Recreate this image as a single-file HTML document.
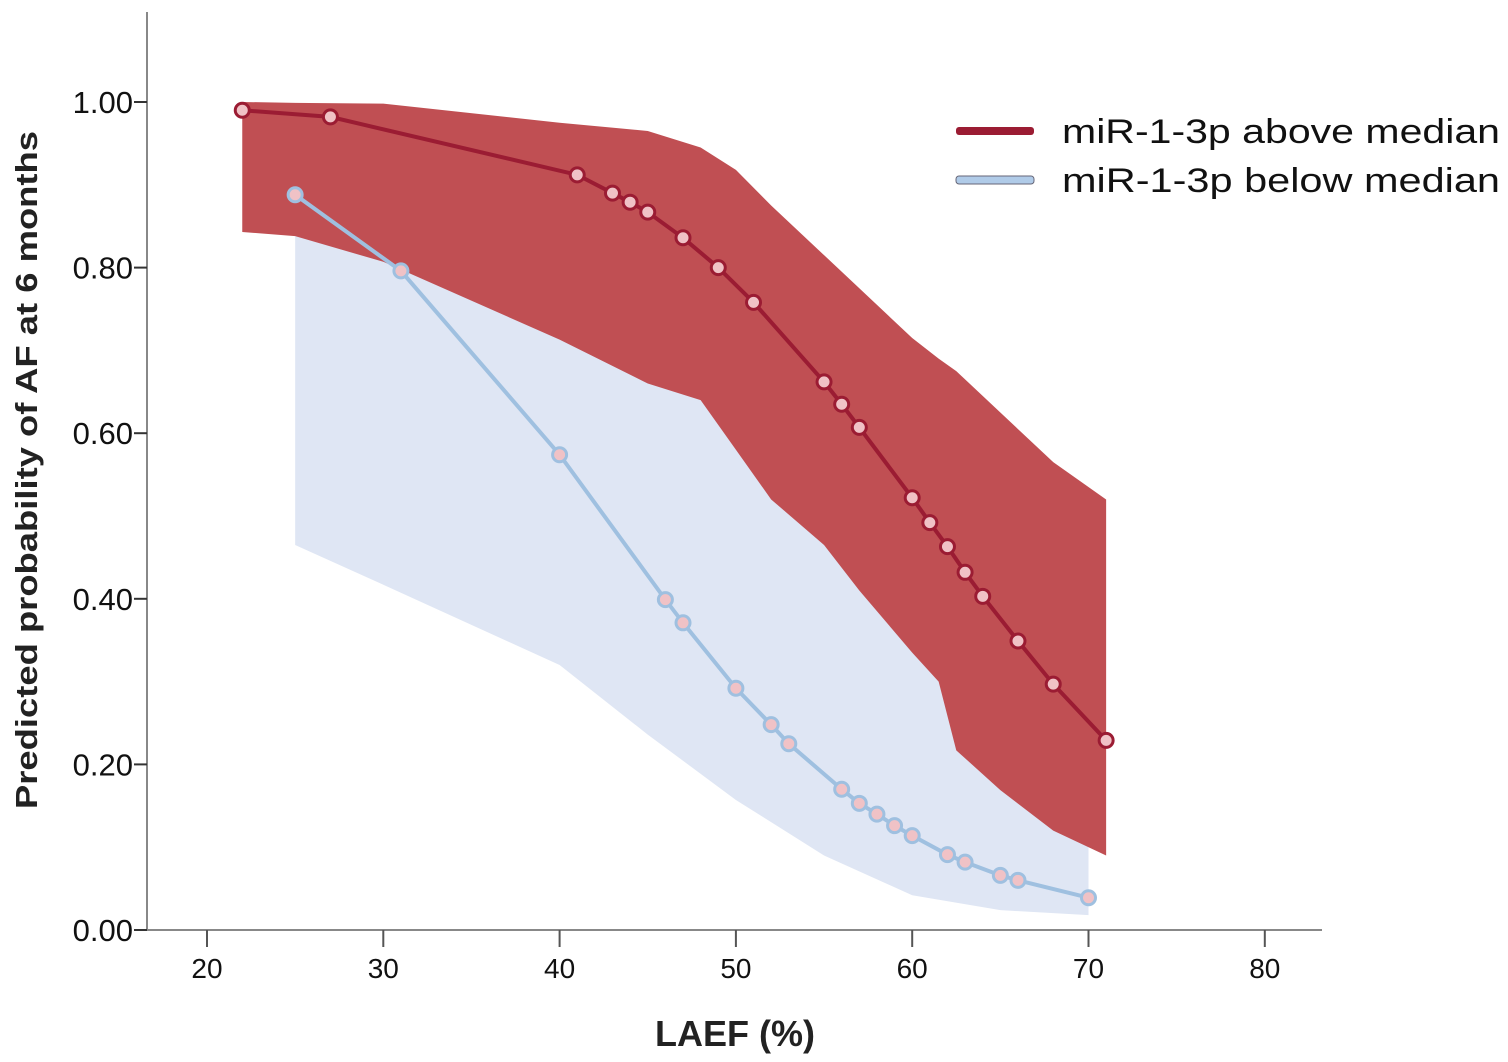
<!DOCTYPE html>
<html><head><meta charset="utf-8"><style>
html,body{margin:0;padding:0;background:#fff}
svg{display:block;font-family:"Liberation Sans",Arial,sans-serif}
</style></head><body>
<svg id="chart" width="1508" height="1062" viewBox="0 0 1508 1062">
<g id="bands"></g><g id="axes"></g><g id="lines"></g>
<text x="735" y="1046" text-anchor="middle" font-size="36" font-weight="bold" fill="#222">LAEF (%)</text>
<text transform="translate(37,470) rotate(-90)" text-anchor="middle" font-size="31" font-weight="bold" fill="#222" textLength="678" lengthAdjust="spacingAndGlyphs">Predicted probability of AF at 6 months</text>
<g>
<rect x="956" y="127" width="78" height="8" rx="3" fill="#9b1c33"/>
<text x="1062" y="143" font-size="34" fill="#111" textLength="438" lengthAdjust="spacingAndGlyphs">miR-1-3p above median</text>
<rect x="956" y="176" width="78" height="8" rx="3" fill="#b0cbe8" stroke="#667" stroke-width="1"/>
<text x="1062" y="192" font-size="34" fill="#111" textLength="438" lengthAdjust="spacingAndGlyphs">miR-1-3p below median</text>
</g>
</svg>
<script>
const xTicks=[20,30,40,50,60,70,80];
const yTicks=[0,0.2,0.4,0.6,0.8,1.0];
const yTickLabels=["0.00","0.20","0.40","0.60","0.80","1.00"];
const aboveX=[22,27,41,43,44,45,47,49,51,55,56,57,60,61,62,63,64,66,68,71];
const aboveY=[0.99,0.982,0.912,0.89,0.879,0.867,0.836,0.80,0.758,0.662,0.635,0.607,0.522,0.492,0.463,0.432,0.403,0.349,0.297,0.229];
const belowX=[25,31,40,46,47,50,52,53,56,57,58,59,60,62,63,65,66,70];
const belowY=[0.888,0.796,0.574,0.399,0.371,0.292,0.248,0.225,0.170,0.153,0.140,0.126,0.114,0.091,0.082,0.066,0.060,0.039];
const aboveBandX=[22,25,30,40,45,48,50,52,55,57,60,61.5,62.5,65,68,71];
const aboveUpper=[1.0,0.999,0.998,0.975,0.965,0.945,0.918,0.875,0.815,0.775,0.715,0.69,0.675,0.625,0.565,0.52];
const aboveLower=[0.843,0.838,0.807,0.713,0.66,0.64,0.58,0.52,0.465,0.41,0.335,0.30,0.217,0.169,0.12,0.09];
const belowBandX=[25,30,40,45,50,55,60,65,70];
const belowUpper=[0.838,0.815,0.73,0.68,0.63,0.52,0.42,0.28,0.14];
const belowLower=[0.465,0.417,0.32,0.236,0.157,0.09,0.042,0.024,0.018];

const NS="http://www.w3.org/2000/svg";
const X=v=>207+(v-20)*17.63;
const Y=p=>930-p*828;
function mk(tag,attrs,parent){const e=document.createElementNS(NS,tag);for(const k in attrs)e.setAttribute(k,attrs[k]);parent.appendChild(e);return e;}
const bands=document.getElementById('bands'),axes=document.getElementById('axes'),lines=document.getElementById('lines');
function band(xs,up,lo,fill,name){
  let pts=xs.map((v,i)=>X(v)+','+Y(up[i]));
  for(let i=xs.length-1;i>=0;i--)pts.push(X(xs[i])+','+Y(lo[i]));
  const p=mk('polygon',{points:pts.join(' '),fill:fill},bands);
  
  
}
band(belowBandX,belowUpper,belowLower,'#dfe6f4','ci-band-below');
band(aboveBandX,aboveUpper,aboveLower,'#c04f53','ci-band-above');
let a=mk('line',{x1:147,y1:12,x2:147,y2:930,stroke:'#888','stroke-width':2},axes);


a=mk('line',{x1:146,y1:930,x2:1322,y2:930,stroke:'#888','stroke-width':2},axes);


xTicks.forEach(v=>{
  const t=mk('line',{x1:X(v),y1:930,x2:X(v),y2:947,stroke:'#555','stroke-width':2},axes);
  
  
  const l=mk('text',{x:X(v),y:978,'text-anchor':'middle','font-size':28,fill:'#111'},axes);
  l.textContent=v;
  
  
});
yTicks.forEach((v,i)=>{
  const t=mk('line',{x1:134,y1:Y(v),x2:147,y2:Y(v),stroke:'#333','stroke-width':2},axes);
  
  
  const l=mk('text',{x:133,y:Y(v)+11,'text-anchor':'end','font-size':31,fill:'#111'},axes);
  l.textContent=yTickLabels[i];
  
  
});
function series(xs,ys,col,name){
  const pl=mk('polyline',{points:xs.map((v,i)=>X(v)+','+Y(ys[i])).join(' '),fill:'none',stroke:col,'stroke-width':4},lines);
  
  
  xs.forEach((v,i)=>{
    const c=mk('circle',{cx:X(v),cy:Y(ys[i]),r:7,fill:'#f0c2c6',stroke:col,'stroke-width':3},lines);
    
    
  });
}
series(belowX,belowY,'#9fc0e0','below-median');
series(aboveX,aboveY,'#9b1c33','above-median');
</script>
</body></html>
